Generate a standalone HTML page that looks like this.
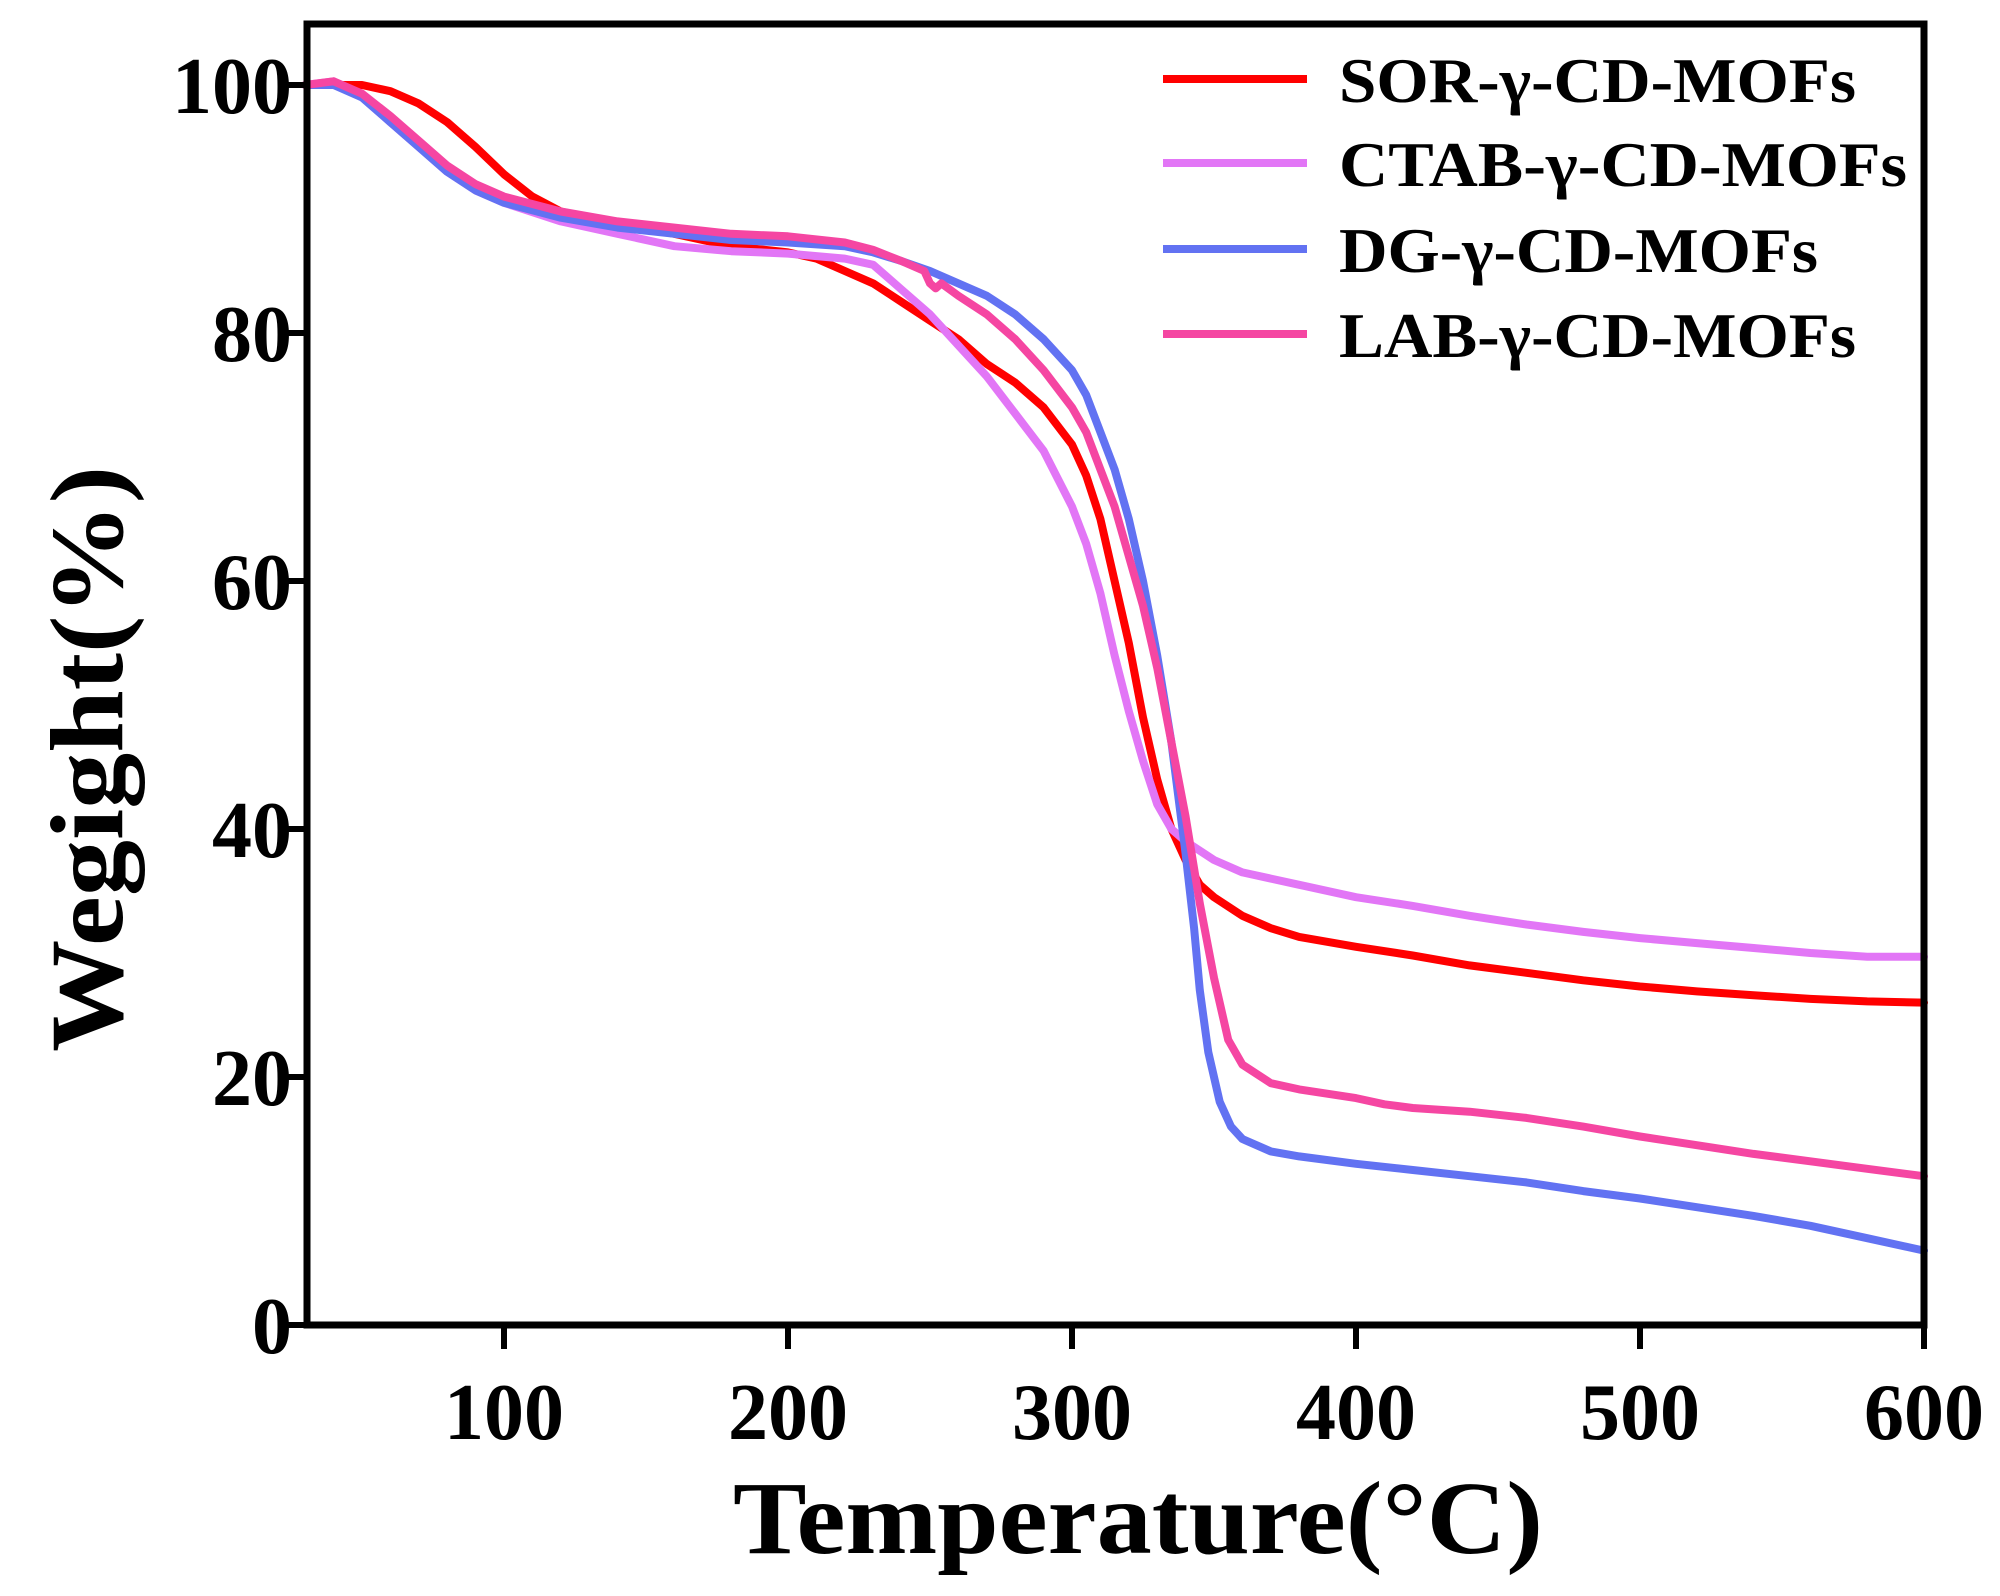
<!DOCTYPE html>
<html><head><meta charset="utf-8"><style>
html,body{margin:0;padding:0;background:#fff;}
svg{display:block;}
text{font-family:"Liberation Serif",serif;font-weight:bold;fill:#000;}
</style></head><body>
<svg id="chart" width="2000" height="1596" viewBox="0 0 2000 1596" xmlns="http://www.w3.org/2000/svg">
<g id="series"></g>
<g id="axes"></g>
<g id="legend"></g>
<text x="1138" y="1553" font-size="104" text-anchor="middle" textLength="810" lengthAdjust="spacingAndGlyphs">Temperature(°C)</text>
<text transform="translate(122,759) rotate(-90)" font-size="104" text-anchor="middle" textLength="586" lengthAdjust="spacingAndGlyphs">Wegight(%)</text>
</svg>
<script>
const xTicks=[100,200,300,400,500,600];
const yTicks=[0,20,40,60,80,100];
const seriesNames=["SOR-γ-CD-MOFs","CTAB-γ-CD-MOFs","DG-γ-CD-MOFs","LAB-γ-CD-MOFs"];
const sorT=[30,50,60,70,80,90,100,110,120,140,160,180,200,210,220,230,240,250,260,270,280,290,300,305,310,315,320,325,330,335,340,345,350,360,370,380,400,420,440,460,480,500,520,540,560,580,600];
const sorW=[100,100,99.5,98.5,97,95,92.8,91,89.8,88.8,88,87,86.5,86,85,84,82.5,81,79.5,77.5,76,74,71,68.5,65,60,55,49,44,40,37.5,35.5,34.5,33,32,31.3,30.5,29.8,29,28.4,27.8,27.3,26.9,26.6,26.3,26.1,26];
const ctabT=[30,40,50,60,70,80,90,100,120,140,160,180,200,220,230,240,250,260,270,280,290,300,305,310,315,320,325,330,335,340,350,360,380,400,420,440,460,480,500,520,540,560,580,600];
const ctabW=[100,100.3,99,97,95,93,91.5,90.5,89,88,87,86.6,86.4,86,85.5,83.5,81.5,79,76.5,73.5,70.5,66,63,59,54,49.5,45.5,42,40,39,37.5,36.5,35.5,34.5,33.8,33,32.3,31.7,31.2,30.8,30.4,30,29.7,29.7];
const dgT=[30,40,50,60,70,80,90,100,120,140,160,180,200,220,230,240,250,260,270,280,290,300,305,310,315,320,325,330,335,340,343,345,348,352,356,360,370,380,400,420,440,460,480,500,520,540,560,580,600];
const dgW=[100,100,99,97,95,93,91.5,90.5,89.3,88.5,88,87.5,87.3,87,86.5,85.8,85,84,83,81.5,79.5,77,75,72,69,65,60,54,47,38,32,27,22,18,16,15,14,13.6,13,12.5,12,11.5,10.8,10.2,9.5,8.8,8,7,6];
const labT=[30,40,50,60,70,80,90,100,120,140,160,180,200,220,230,240,248,250,252,254,260,270,280,290,300,305,310,315,320,325,330,335,340,345,350,355,360,370,380,400,410,420,440,460,480,500,520,540,560,580,600];
const labW=[100,100.3,99.3,97.5,95.5,93.5,92,91,89.8,89,88.5,88,87.8,87.3,86.7,85.8,85,84,83.6,84,83,81.5,79.5,77,74,72,69,66,62,58,53,47,41,34,28,23,21,19.5,19,18.3,17.8,17.5,17.2,16.7,16,15.2,14.5,13.8,13.2,12.6,12];
const colors=["#ff0000","#e276f6","#6272f2","#f546a2"];
const allT=[sorT,ctabT,dgT,labT], allW=[sorW,ctabW,dgW,labW];
const NS="http://www.w3.org/2000/svg";
const X0=307,X1=1924,Y0=1325,Y1=24;
const xs=t=>220+(t)*2.84;
const ys=v=>1325-v*12.4;
function mk(tag,attrs,parent){const e=document.createElementNS(NS,tag);for(const k in attrs)e.setAttribute(k,attrs[k]);parent.appendChild(e);return e;}
const sg=document.getElementById('series');
allT.forEach((T,i)=>{
  const d=T.map((t,j)=>(j?'L':'M')+xs(t).toFixed(1)+','+ys(allW[i][j]).toFixed(1)).join(' ');
  const p=mk('path',{d:d,fill:'none',stroke:colors[i],'stroke-width':8,'stroke-linejoin':'round','stroke-linecap':'round'},sg);
  
  
});
const ag=document.getElementById('axes');
const fr=mk('rect',{x:X0,y:Y1,width:X1-X0,height:Y0-Y1,fill:'none',stroke:'#000','stroke-width':7},ag);


xTicks.forEach(t=>{
  const l=mk('line',{x1:xs(t),x2:xs(t),y1:Y0,y2:Y0+24,stroke:'#000','stroke-width':6},ag);
  
  
  const tx=mk('text',{x:xs(t),y:1439,'font-size':80,'text-anchor':'middle'},ag);
  tx.textContent=t;
  
  
});
yTicks.forEach(v=>{
  const l=mk('line',{x1:X0-24,x2:X0,y1:ys(v),y2:ys(v),stroke:'#000','stroke-width':6},ag);
  
  
  const tx=mk('text',{x:292,y:ys(v)+28,'font-size':80,'text-anchor':'end'},ag);
  tx.textContent=v;
  
  
});
const lg=document.getElementById('legend');
const ly=[79,163,249,334], lw=[517,568,479,517];
seriesNames.forEach((n,i)=>{
  const l=mk('line',{x1:1163,x2:1307,y1:ly[i],y2:ly[i],stroke:colors[i],'stroke-width':8},lg);
  
  
  const tx=mk('text',{x:1339,y:ly[i]+23,'font-size':64,textLength:lw[i],lengthAdjust:'spacingAndGlyphs'},lg);
  tx.textContent=n;
  
  
});
</script>
</body></html>
